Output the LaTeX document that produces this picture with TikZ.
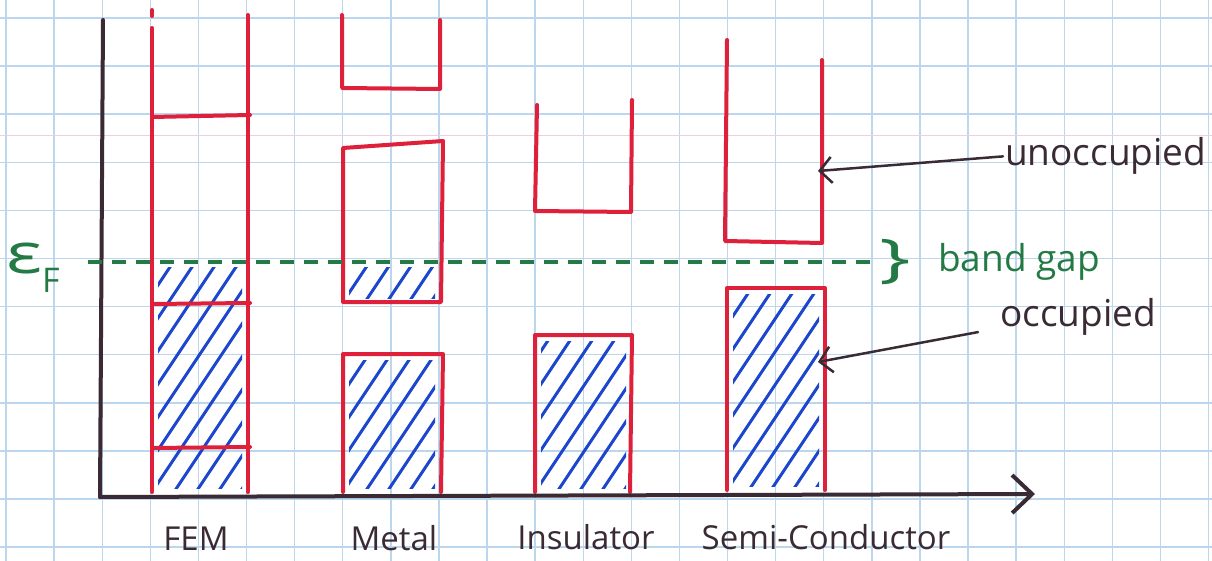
\documentclass[tikz,border=0pt]{standalone}
\usepackage{fontspec}
\setmainfont{Open Sans}
\usetikzlibrary{arrows.meta}
\definecolor{gridblue}{RGB}{188,214,238}
\definecolor{marginpink}{RGB}{240,205,225}
\definecolor{penred}{RGB}{222,32,58}
\definecolor{penblue}{RGB}{28,70,205}
\definecolor{pengreen}{RGB}{35,122,68}
\definecolor{penblack}{RGB}{58,42,52}
\tikzset{
  gridline/.style={gridblue, line width=1.4pt},
  marginline/.style={marginpink, line width=1pt},
  band/.style={penred, line width=4pt, line cap=round, line join=round},
  hatchline/.style={penblue, line width=3pt, line cap=round},
  axis/.style={penblack, line width=4pt, line cap=round},
  fermi/.style={pengreen, line width=3.5pt, dash pattern=on 14pt off 10pt},
  pointer/.style={penblack, line width=2.5pt, line cap=round, -{Straight Barb[length=12pt,width=26pt,line width=2.5pt]}},
  lbl/.style={penblack, inner sep=0pt, font=\fontsize{33}{33}\selectfont},
  greentext/.style={pengreen, inner sep=0pt, font=\fontsize{37}{37}\selectfont},
  blacktext/.style={penblack, inner sep=0pt, font=\fontsize{37}{37}\selectfont},
}
\newcommand\hatchbox[4]{%
  \begin{scope}
    \clip ({#1+6},{#2+6}) rectangle ({#3-6},{#4-4});
    \foreach \k in {-9,...,8} \draw[hatchline] ({#1+(\k)*22},#4) -- ++(220,-330);
  \end{scope}}
\begin{document}
\begin{tikzpicture}[x=1pt,y=-1pt]
\useasboundingbox (0,0) rectangle (1212,561);
\fill[white] (0,0) rectangle (1212,561);
% graph paper
\foreach \i in {0,...,25} \draw[gridline] ({6+\i*48.1},0) -- ({6+\i*48.1},561);
\foreach \j in {0,...,11} \draw[gridline] (0,{18+\j*48.1}) -- (1212,{18+\j*48.1});
\draw[marginline] (0,136) -- (1212,136);
% hatching of occupied states
\hatchbox{152}{262}{248}{492}
\hatchbox{343}{262}{441}{302}
\hatchbox{343}{354}{441}{492}
\hatchbox{535}{335}{632}{492}
\hatchbox{727}{288}{825}{490}
% FEM
\draw[band] (152,10) -- (152,16);
\draw[band] (152,28) -- (152,492);
\draw[band] (248,15) -- (248,492);
\draw[band] (152,117) -- (250,115);
\draw[band] (152,304) -- (250,303);
\draw[band] (152,448) -- (250,447);
% Metal
\draw[band] (342,15) -- (342,88) -- (440,89) -- (440,20);
\draw[band] (343,148) -- (443,141) -- (441,302) -- (343,302) -- cycle;
\draw[band] (343,492) -- (343,354) -- (443,354) -- (441,492);
% Insulator
\draw[band] (537,105) -- (535,211) -- (631,212) -- (632,100);
\draw[band] (535,492) -- (535,335) -- (632,335) -- (630,492);
% Semi-conductor
\draw[band] (727,40) -- (725,241) -- (822,243) -- (822,60);
\draw[band] (727,490) -- (727,288) -- (825,288) -- (825,490);
% axes
\coordinate (ytop) at (103,20);
\coordinate (origin) at (100,497);
\coordinate (xend) at (1035,494);
\draw[axis] (ytop) -- (origin);
\draw[axis, -{Straight Barb[length=20pt,width=38pt,line width=4pt]}] (origin) -- (xend);
% Fermi level
\node[greentext, anchor=base west] (ef) at (6,273) {\scalebox{1.35}[1]{\fontsize{56}{56}\selectfont ε}\raisebox{-19pt}{\fontsize{34}{34}\selectfont F}};
\node[greentext, anchor=center] (brace) at (895,262) {\scalebox{1.6}[1]{\fontsize{52}{52}\selectfont \}}};
\node[greentext, anchor=base west] (bandgap) at (938,272) {band gap};
\coordinate (fermiL) at (88,262);
\draw[fermi] (fermiL) -- (brace.west);
% pointers
\node[blacktext, anchor=base west] (unocc) at (1005,166) {unoccupied};
\node[blacktext, anchor=base west] (occ) at (1000,326) {occupied};
\coordinate (unoccTip) at (818,171);
\coordinate (occTip) at (818,362);
\draw[pointer] ([xshift=-2pt]unocc.west) -- (unoccTip);
\draw[pointer] ([xshift=-22pt,yshift=3pt]occ.south west) -- (occTip);
% labels
\node[lbl, anchor=base] (fem) at (196,550) {FEM};
\node[lbl, anchor=base] (metal) at (394,550) {Metal};
\node[lbl, anchor=base] (ins) at (586,549) {Insulator};
\node[lbl, anchor=base] (semi) at (826,549) {Semi-Conductor};
\end{tikzpicture}
\end{document}
